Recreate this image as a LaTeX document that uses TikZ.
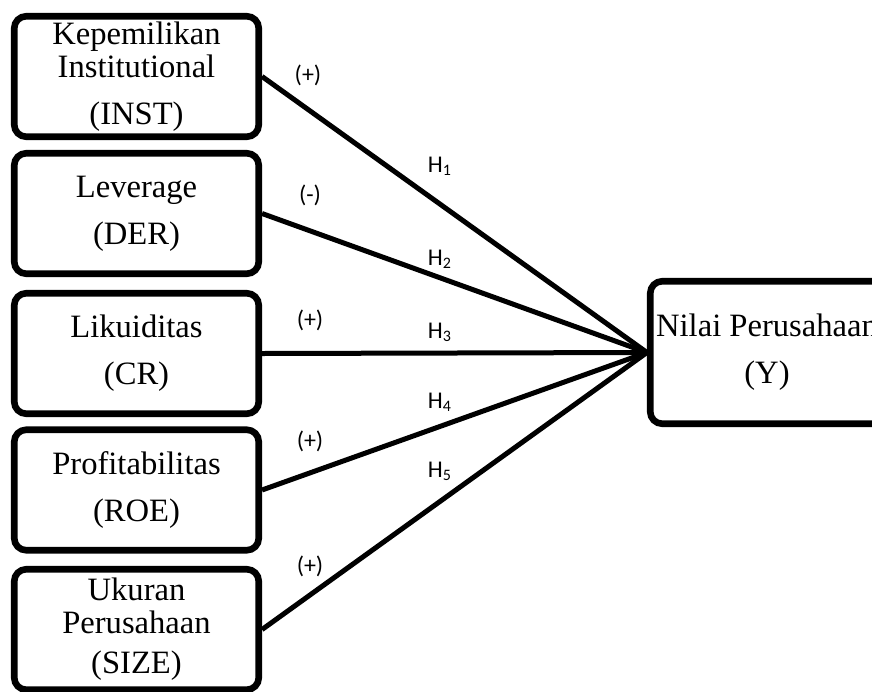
\documentclass[tikz,border=0pt]{standalone}
\usepackage{fontspec}
\setmainfont{Liberation Serif}
\newfontfamily\calibri{Carlito}
\usetikzlibrary{shadows}
\tikzset{
  kotak/.style={draw, line width=3.3pt, rounded corners=6pt, minimum width=122.25pt, minimum height=60.25pt, align=center, inner sep=0pt, fill=white, font=\fontsize{16.3}{16.5}\selectfont, drop shadow={opacity=0.25, shadow xshift=0.6pt, shadow yshift=-1.2pt}},
  garis/.style={line width=2.5pt},
  tanda/.style={anchor=base, font=\calibri\fontsize{12}{14}\selectfont}
}
\begin{document}
\begin{tikzpicture}[x=0.5pt,y=-0.5pt]
\useasboundingbox (0,0) rectangle (872,691);
\clip (0,0) rectangle (872,691);

\node[kotak] (inst) at (136.5,76.5) {Kepemilikan\\Institutional\\[7pt](INST)};
\node[kotak] (der) at (136.5,213.5) {Leverage\\[7pt](DER)};
\node[kotak] (cr) at (136.5,353.5) {Likuiditas\\[7pt](CR)};
\node[kotak] (roe) at (136.5,490) {Profitabilitas\\[7pt](ROE)};
\node[kotak] (size) at (136.5,629.5) {Ukuran\\Perusahaan\\[3.5pt](SIZE)};
\node[kotak, minimum width=116.75pt, minimum height=71.25pt] (nilai) at (767,352.5) {Nilai Perusahaan\\[7pt](Y)};

\draw[garis] (inst.east) -- (nilai.west);
\draw[garis] (der.east) -- (nilai.west);
\draw[garis] (cr.east) -- (nilai.west);
\draw[garis] (roe.east) -- (nilai.west);
\draw[garis] (size.east) -- (nilai.west);

\node[tanda] (s1) at (308,82) {(+)};
\node[tanda] (s2) at (310,202) {(-)};
\node[tanda] (s3) at (310,327) {(+)};
\node[tanda] (s4) at (310,448) {(+)};
\node[tanda] (s5) at (310,573) {(+)};
\node[tanda] (h1) at (440,172) {H\textsubscript{1}};
\node[tanda] (h2) at (440,265) {H\textsubscript{2}};
\node[tanda] (h3) at (440,338) {H\textsubscript{3}};
\node[tanda] (h4) at (440,408) {H\textsubscript{4}};
\node[tanda] (h5) at (440,477) {H\textsubscript{5}};
\end{tikzpicture}
\end{document}
